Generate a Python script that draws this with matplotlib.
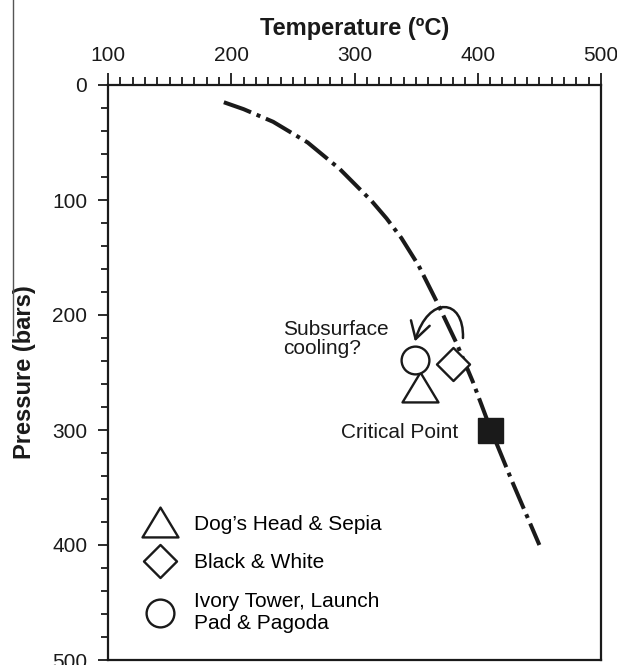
import matplotlib
matplotlib.use('Agg')
import matplotlib.pyplot as plt
from matplotlib.path import Path
from matplotlib.patches import FancyArrowPatch
from matplotlib.lines import Line2D
from matplotlib.ticker import MultipleLocator

plt.rcParams['font.family'] = ['Liberation Sans', 'DejaVu Sans']
plt.rcParams['font.size'] = 15

# two-phase boundary of seawater (dash-dot curve), temperature / pressure
curva_t = [194, 210, 234, 262, 288, 314, 326, 338, 352, 367, 383, 396, 410, 428, 450]
curva_p = [15, 21, 32, 50, 73, 101, 116, 133, 157, 189, 225, 258, 298, 345, 400]

# critical point
critico_t = 410
critico_p = 300

# vent fluids
nomes = ["Dog\u2019s Head & Sepia", "Black & White", "Ivory Tower, Launch\nPad & Pagoda"]
vent_t = [353, 380, 349]
vent_p = [263, 243, 239]

cor = '#1a1a1a'

# marcadores
triangulo = Path([(-1, -0.83), (1, -0.83), (0, 0.83), (-1, -0.83)],
                 [Path.MOVETO, Path.LINETO, Path.LINETO, Path.CLOSEPOLY])
losango = Path([(0, 1), (1, 0), (0, -1), (-1, 0), (0, 1)],
               [Path.MOVETO, Path.LINETO, Path.LINETO, Path.LINETO, Path.CLOSEPOLY])
marcadores = [(triangulo, 25.9), (losango, 23.8), ('o', 20)]

fig = plt.figure(figsize=(6.17, 6.65), dpi=100)
ax = fig.add_axes([108 / 617, 1 - 660 / 665, 493 / 617, 575 / 665])

ax.plot(curva_t, curva_p, color=cor, lw=2.9,
        linestyle=(0, (7.2, 1.5, 1.0, 1.5)))

ax.plot([critico_t], [critico_p], ls='none', marker='s', ms=18,
        mfc=cor, mec=cor)

handles = []
for nome, t, p, (m, ms) in zip(nomes, vent_t, vent_p, marcadores):
    h, = ax.plot([t], [p], ls='none', marker=m, ms=ms, mfc='white',
                 mec=cor, mew=1.7, label=nome)
    handles.append(h)

# seta curva (resfriamento)
seta = Path([(388, 220), (389, 185), (360, 183), (349, 223)],
            [Path.MOVETO, Path.CURVE4, Path.CURVE4, Path.CURVE4])
ax.add_patch(FancyArrowPatch(path=seta, arrowstyle='->,head_length=0.6,head_width=0.35',
                             mutation_scale=20, lw=1.8, color=cor,
                             transform=ax.transData))

ax.text(242, 221, 'Subsurface\ncooling?', ha='left', va='center',
        linespacing=1.0, color=cor)
ax.text(384, 302, 'Critical Point', ha='right', va='center', color=cor)

ax.legend(handles=handles, loc='upper left', bbox_to_anchor=(0.081, 0.253),
          frameon=False, borderpad=0, borderaxespad=0, handlelength=1.2,
          handletextpad=1.03, labelspacing=0.95, fontsize=15)

ax.set_xlim(100, 500)
ax.set_ylim(500, 0)
ax.xaxis.tick_top()
ax.xaxis.set_label_position('top')
ax.xaxis.set_major_locator(MultipleLocator(100))
ax.xaxis.set_minor_locator(MultipleLocator(10))
ax.yaxis.set_major_locator(MultipleLocator(100))
ax.yaxis.set_minor_locator(MultipleLocator(20))

ax.tick_params(axis='x', which='both', top=True, bottom=False, direction='out',
               colors=cor, labelsize=15, pad=6.2, width=1.3)
ax.tick_params(axis='x', which='major', length=8.5)
ax.tick_params(axis='x', which='minor', length=5.5)
ax.tick_params(axis='y', which='both', left=True, right=False, direction='out',
               colors=cor, labelsize=15, pad=8, width=1.3)
ax.tick_params(axis='y', which='major', length=7)
ax.tick_params(axis='y', which='minor', length=5)

for s in ax.spines.values():
    s.set_linewidth(1.6)
    s.set_color(cor)

ax.set_xlabel('Temperature (\u00baC)', fontsize=17, fontweight='bold', labelpad=7.5, color=cor)
ax.set_ylabel('Pressure (bars)', fontsize=17, fontweight='bold', labelpad=11.6, color=cor)

# linha vertical do painel vizinho (recorte)
fig.add_artist(Line2D([13 / 617, 13 / 617], [1, 1 - 335 / 665], color='#555555',
                      lw=1.0, transform=fig.transFigure))

plt.savefig('out.png', dpi=100)
